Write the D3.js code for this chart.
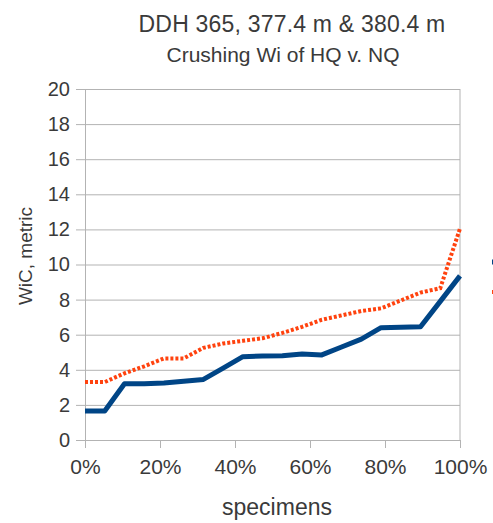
<!DOCTYPE html>
<html>
<head>
<meta charset="utf-8">
<script src="https://cdn.jsdelivr.net/npm/d3@7"></script>
<style>
  body { margin: 0; background: #fff; }
  text { font-family: "Liberation Sans", Arial, sans-serif; fill: #3a3a3a; }
</style>
</head>
<body>
<svg class="wiChart"></svg>
<script>
// 20 specimens, sorted, plotted at i / 19
const hq = [1.65, 1.65, 3.2, 3.2, 3.25, 3.35, 3.45, 4.1, 4.75, 4.78, 4.8, 4.9, 4.85, 5.3, 5.75, 6.4, 6.42, 6.45, 7.9, 9.35]
const nq = [3.3, 3.3, 3.8, 4.2, 4.65, 4.65, 5.25, 5.5, 5.65, 5.8, 6.1, 6.45, 6.85, 7.1, 7.35, 7.5, 7.95, 8.4, 8.65, 12.05]
const seriesNames = ["HQ", "NQ"]
const yTicks = [0, 2, 4, 6, 8, 10, 12, 14, 16, 18, 20]
const xTicks = [0, 0.2, 0.4, 0.6, 0.8, 1]

const svg = d3.select('svg.wiChart').attr('width', 493).attr('height', 523)

const plotLeft = 85, plotRight = 460, plotTop = 89, plotBottom = 440

const xScale = d3.scaleLinear().domain([0, 1]).range([plotLeft, plotRight])
const yScale = d3.scaleLinear().domain([0, 20]).range([plotBottom, plotTop])

// titles
svg.append('text')
  .attr('x', 292).attr('y', 32)
  .attr('text-anchor', 'middle')
  .style('font-size', '23px')
  .style('letter-spacing', '0.2px')
  .text('DDH 365, 377.4 m & 380.4 m')

svg.append('text')
  .attr('x', 283).attr('y', 62)
  .attr('text-anchor', 'middle')
  .style('font-size', '21px')
  .text('Crushing Wi of HQ v. NQ')

// grid
svg.append('g')
  .attr('class', 'grid')
  .attr('transform', `translate(${plotLeft}, 0)`)
  .call(d3.axisLeft(yScale).tickValues(yTicks).tickSize(-(plotRight - plotLeft)).tickFormat(''))
  .call(g => g.select('.domain').remove())
  .call(g => g.selectAll('line').attr('stroke', '#b3b3b3'))

// right border
svg.append('line')
  .attr('x1', plotRight).attr('x2', plotRight)
  .attr('y1', plotTop).attr('y2', plotBottom)
  .attr('stroke', '#b3b3b3')

// y axis
svg.append('g')
  .attr('transform', `translate(${plotLeft}, 0)`)
  .call(d3.axisLeft(yScale).tickValues(yTicks).tickSize(9).tickPadding(6))
  .call(g => g.select('.domain').attr('stroke', '#b3b3b3'))
  .call(g => g.selectAll('line').attr('stroke', '#b3b3b3'))
  .call(g => g.selectAll('text').style('font-size', '20px').style('font-family', '"Liberation Sans", Arial, sans-serif').attr('fill', '#3a3a3a'))

// x axis
svg.append('g')
  .attr('transform', `translate(0, ${plotBottom})`)
  .call(d3.axisBottom(xScale).tickValues(xTicks).tickFormat(d3.format('.0%')).tickSize(8).tickPadding(11))
  .call(g => g.select('.domain').attr('stroke', '#b3b3b3'))
  .call(g => g.selectAll('line').attr('stroke', '#b3b3b3'))
  .call(g => g.selectAll('text').style('font-size', '21px').style('font-family', '"Liberation Sans", Arial, sans-serif').attr('fill', '#3a3a3a'))

// axis titles
svg.append('text')
  .attr('x', 277).attr('y', 515)
  .attr('text-anchor', 'middle')
  .style('font-size', '23px')
  .text('specimens')

svg.append('text')
  .attr('transform', 'translate(32, 256) rotate(-90)')
  .attr('text-anchor', 'middle')
  .style('font-size', '19px')
  .text('WiC, metric')

// lines
const line = d3.line()
  .x((d, i) => xScale(i / (hq.length - 1)))
  .y(d => yScale(d))

svg.append('path')
  .datum(nq)
  .attr('d', line)
  .attr('fill', 'none')
  .attr('stroke', '#ff420e')
  .attr('stroke-width', 4)
  .attr('stroke-dasharray', '3,2')

svg.append('path')
  .datum(hq)
  .attr('d', line)
  .attr('fill', 'none')
  .attr('stroke', '#004586')
  .attr('stroke-width', 5)
  .attr('stroke-linejoin', 'round')

// legend (mostly cut off at the right edge)
const legend = svg.append('g').attr('transform', 'translate(492, 262)')
legend.selectAll('line')
  .data(seriesNames)
  .enter()
  .append('line')
  .attr('x1', 0).attr('x2', 20)
  .attr('y1', (d, i) => i * 30).attr('y2', (d, i) => i * 30)
  .attr('stroke', (d, i) => i === 0 ? '#004586' : '#ff420e')
  .attr('stroke-width', (d, i) => i === 0 ? 5 : 4)
  .attr('stroke-dasharray', (d, i) => i === 0 ? null : '3,2')
</script>
</body>
</html>
